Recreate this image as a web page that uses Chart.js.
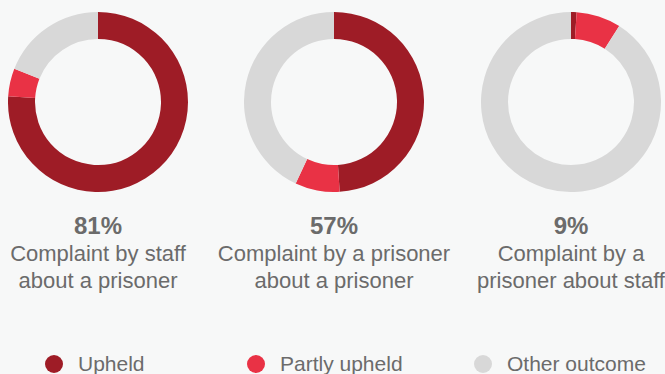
<!DOCTYPE html>
<html lang="en">
<head>
<meta charset="UTF-8">
<title>Complaint outcomes</title>
<script src="https://cdn.jsdelivr.net/npm/chart.js"></script>
<style>
  html, body { margin: 0; padding: 0; }
  body {
    width: 665px; height: 374px; overflow: hidden;
    background: #f7f8f8; position: relative;
    font-family: "Liberation Sans", Arial, sans-serif; color: #6b6b6b;
  }
  .ring { position: absolute; top: 12px; width: 180px; height: 180px; }
  .caption { position: absolute; top: 211px; width: 260px; text-align: center; white-space: nowrap; }
  .caption .pct { font-weight: bold; font-size: 24px; line-height: 29px; }
  .caption .name { font-size: 22px; line-height: 27px; }
  .legend { position: absolute; top: 352px; left: 0; width: 665px; height: 24px; }
  .legend span { position: absolute; font-size: 21px; line-height: 24px; white-space: nowrap; }
  .legend i { display: inline-block; width: 18px; height: 18px; border-radius: 50%; vertical-align: -2px; margin-right: 15px; }
</style>
</head>
<body>

<div id="charts"></div>
<div class="legend" id="legend"></div>

<script>
  // outcome shares (%) for each complaint type
  const categories = [
    ['Complaint by staff', 'about a prisoner'],
    ['Complaint by a prisoner', 'about a prisoner'],
    ['Complaint by a', 'prisoner about staff']
  ];
  const upheld = [76, 49, 1];
  const partlyUpheld = [5, 8, 8];
  const otherOutcome = [19, 43, 91];

  const outcomeLabels = ['Upheld', 'Partly upheld', 'Other outcome'];
  const outcomeColors = ['#9e1c26', '#e93245', '#d8d8d8'];

  // ring centres along the row
  const centres = [98, 334, 571];
  const legendX = [45, 247, 474];

  const host = document.getElementById('charts');

  categories.forEach(function (lines, i) {
    const box = document.createElement('div');
    box.className = 'ring';
    box.style.left = (centres[i] - 90) + 'px';
    const cv = document.createElement('canvas');
    box.appendChild(cv);
    host.appendChild(box);

    new Chart(cv, {
      type: 'doughnut',
      data: {
        labels: outcomeLabels,
        datasets: [{
          data: [upheld[i], partlyUpheld[i], otherOutcome[i]],
          backgroundColor: outcomeColors,
          borderWidth: 0
        }]
      },
      options: {
        responsive: true,
        maintainAspectRatio: false,
        animation: false,
        cutout: '70%',
        plugins: { legend: { display: false }, tooltip: { enabled: false } }
      }
    });

    const cap = document.createElement('div');
    cap.className = 'caption';
    cap.style.left = (centres[i] - 130) + 'px';
    const pct = document.createElement('div');
    pct.className = 'pct';
    pct.textContent = (upheld[i] + partlyUpheld[i]) + '%';
    cap.appendChild(pct);
    lines.forEach(function (t) {
      const d = document.createElement('div');
      d.className = 'name';
      d.textContent = t;
      cap.appendChild(d);
    });
    host.appendChild(cap);
  });

  const legend = document.getElementById('legend');
  outcomeLabels.forEach(function (label, i) {
    const s = document.createElement('span');
    s.style.left = legendX[i] + 'px';
    s.innerHTML = '<i style="background:' + outcomeColors[i] + '"></i>' + label;
    legend.appendChild(s);
  });
</script>
</body>
</html>
